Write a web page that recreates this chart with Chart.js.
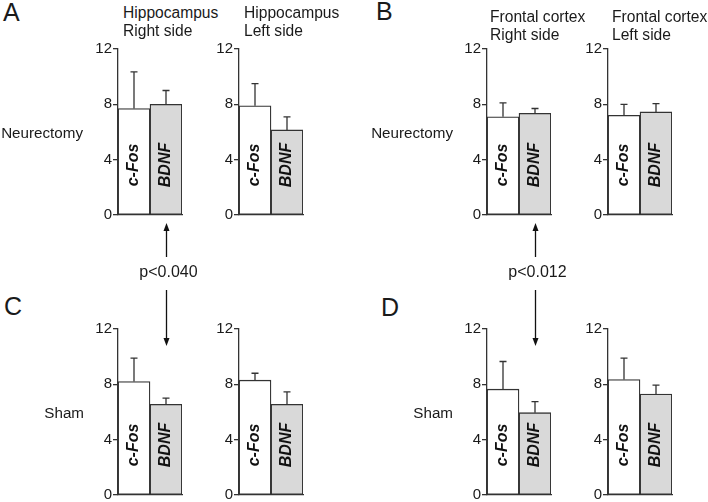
<!DOCTYPE html>
<html>
<head>
<meta charset="utf-8">
<title>c-Fos and BDNF</title>
<script src="https://cdn.jsdelivr.net/npm/chart.js@4.4.1/dist/chart.umd.min.js"></script>
<style>
  body { margin: 0; background: #fff; }
  #fig { position: relative; width: 708px; height: 502px; overflow: hidden;
         font-family: Arial, "Liberation Sans", sans-serif; color: #1a1a1a; }
  #fig canvas { position: absolute; }
  .txt { position: absolute; white-space: nowrap; line-height: 1; }
  #arrows { position: absolute; left: 0; top: 0; }
</style>
</head>
<body>
<div id="fig"></div>
<script>
// bar categories and y axis
const markers = ["c-Fos", "BDNF"];
const yTicks = [0, 4, 8, 12];

// Neurectomy (panels A and B): means and upper error (SEM)
const hipRightNeurectomy = [7.7, 8.0];
const hipRightNeurectomyErr = [2.65, 1.0];
const hipLeftNeurectomy = [7.9, 6.15];
const hipLeftNeurectomyErr = [1.6, 0.95];
const frontRightNeurectomy = [7.1, 7.35];
const frontRightNeurectomyErr = [1.0, 0.35];
const frontLeftNeurectomy = [7.2, 7.45];
const frontLeftNeurectomyErr = [0.8, 0.6];

// Sham (panels C and D)
const hipRightSham = [8.2, 6.55];
const hipRightShamErr = [1.7, 0.45];
const hipLeftSham = [8.3, 6.55];
const hipLeftShamErr = [0.5, 0.9];
const frontRightSham = [7.65, 5.95];
const frontRightShamErr = [2.0, 0.8];
const frontLeftSham = [8.35, 7.3];
const frontLeftShamErr = [1.55, 0.65];

const pValues = ["p<0.040", "p<0.012"];

(() => {
  const LINE = "#333";
  const FILLS = ["#ffffff", "#d9d9d9"];
  const FONT = 'Arial, "Liberation Sans", sans-serif';
  const AXIS_W = 40, PLOT_W = 64, PLOT_H = 166, PAD_TOP = 12, PAD_RIGHT = 6, PAD_BOTTOM = 12;
  const fig = document.getElementById("fig");

  function addText(text, x, baseline, size, align) {
    const el = document.createElement("div");
    el.className = "txt";
    el.textContent = text;
    el.style.fontSize = size + "px";
    el.style.top = (baseline - 0.8465 * size).toFixed(1) + "px";
    el.style.left = x + "px";
    if (align === "right") el.style.transform = "translateX(-100%)";
    if (align === "center") el.style.transform = "translateX(-50%)";
    fig.appendChild(el);
  }

  const errorBars = {
    id: "errorBars",
    afterDatasetsDraw(chart) {
      const { ctx } = chart;
      const y = chart.scales.y;
      const ds = chart.data.datasets[0];
      chart.getDatasetMeta(0).data.forEach((bar, i) => {
        const top = y.getPixelForValue(ds.data[i] + ds.errors[i]);
        ctx.save();
        ctx.strokeStyle = LINE;
        ctx.lineWidth = 1.3;
        ctx.beginPath();
        ctx.moveTo(bar.x, bar.y);
        ctx.lineTo(bar.x, top);
        ctx.moveTo(bar.x - 3.5, top);
        ctx.lineTo(bar.x + 3.5, top);
        ctx.stroke();
        ctx.restore();
      });
    },
  };

  const barLabels = {
    id: "barLabels",
    afterDatasetsDraw(chart) {
      const { ctx, chartArea } = chart;
      chart.getDatasetMeta(0).data.forEach((bar, i) => {
        ctx.save();
        ctx.translate(bar.x, chartArea.bottom - 50);
        ctx.rotate(-Math.PI / 2);
        ctx.font = "italic bold 16px " + FONT;
        ctx.fillStyle = "#111";
        ctx.textAlign = "center";
        ctx.textBaseline = "middle";
        ctx.fillText(chart.data.labels[i], 0, 0);
        ctx.restore();
      });
    },
  };

  function makePanel(axisX, y12, values, errors) {
    const canvas = document.createElement("canvas");
    canvas.width = AXIS_W + PLOT_W + PAD_RIGHT;
    canvas.height = PAD_TOP + PLOT_H + PAD_BOTTOM;
    canvas.style.left = axisX - AXIS_W + "px";
    canvas.style.top = y12 - PAD_TOP + "px";
    fig.appendChild(canvas);

    new Chart(canvas, {
      type: "bar",
      data: {
        labels: markers,
        datasets: [{
          data: values,
          errors: errors,
          backgroundColor: FILLS,
          borderColor: LINE,
          borderWidth: 1.3,
          borderSkipped: false,
          barPercentage: 1,
          categoryPercentage: 1,
        }],
      },
      options: {
        responsive: false,
        animation: false,
        devicePixelRatio: 1,
        layout: { padding: { top: PAD_TOP, right: PAD_RIGHT, bottom: PAD_BOTTOM, left: 0 } },
        plugins: { legend: { display: false }, tooltip: { enabled: false } },
        scales: {
          x: {
            grid: { display: false, drawTicks: false },
            ticks: { display: false },
            border: { display: true, color: LINE, width: 1.3 },
            afterFit: (s) => { s.height = 0; },
          },
          y: {
            min: 0,
            max: 12,
            afterBuildTicks: (s) => { s.ticks = yTicks.map((v) => ({ value: v })); },
            ticks: { color: "#1a1a1a", padding: 1, font: { family: FONT, size: 15 } },
            grid: { drawOnChartArea: false, drawTicks: true, tickLength: 5, color: LINE, lineWidth: 1.3 },
            border: { display: true, color: LINE, width: 1.3 },
            afterFit: (s) => { s.width = AXIS_W; },
          },
        },
      },
      plugins: [errorBars, barLabels],
    });
  }

  // panels: A (top left), B (top right), C (bottom left), D (bottom right)
  const topY12 = 49, botY12 = 329;
  const hipRightX = 118, hipLeftX = 239, frontRightX = 487, frontLeftX = 608;

  makePanel(hipRightX, topY12, hipRightNeurectomy, hipRightNeurectomyErr);
  makePanel(hipLeftX, topY12, hipLeftNeurectomy, hipLeftNeurectomyErr);
  makePanel(frontRightX, topY12, frontRightNeurectomy, frontRightNeurectomyErr);
  makePanel(frontLeftX, topY12, frontLeftNeurectomy, frontLeftNeurectomyErr);
  makePanel(hipRightX, botY12, hipRightSham, hipRightShamErr);
  makePanel(hipLeftX, botY12, hipLeftSham, hipLeftShamErr);
  makePanel(frontRightX, botY12, frontRightSham, frontRightShamErr);
  makePanel(frontLeftX, botY12, frontLeftSham, frontLeftShamErr);

  // panel letters
  addText("A", 3, 21.5, 25);
  addText("B", 376, 20.5, 25);
  addText("C", 4, 315, 25);
  addText("D", 381, 316, 25);

  // titles
  addText("Hippocampus", 123, 18.3, 15.6);
  addText("Right side", 123, 36.3, 15.6);
  addText("Hippocampus", 244, 18.3, 15.6);
  addText("Left side", 244, 36.3, 15.6);
  addText("Frontal cortex", 490, 22.5, 15.6);
  addText("Right side", 490, 40, 15.6);
  addText("Frontal cortex", 612, 22.5, 15.6);
  addText("Left side", 612, 40, 15.6);

  // row labels
  addText("Neurectomy", 83, 137.5, 15.2, "right");
  addText("Neurectomy", 453, 137.5, 15.2, "right");
  addText("Sham", 84, 418, 15.2, "right");
  addText("Sham", 453, 418, 15.2, "right");

  // comparison arrows between BDNF bars
  const svgNS = "http://www.w3.org/2000/svg";
  const svg = document.createElementNS(svgNS, "svg");
  svg.setAttribute("id", "arrows");
  svg.setAttribute("width", 708);
  svg.setAttribute("height", 502);
  fig.appendChild(svg);

  function arrow(x, yFrom, yTip) {
    const dir = yTip > yFrom ? 1 : -1;
    const line = document.createElementNS(svgNS, "line");
    line.setAttribute("x1", x);
    line.setAttribute("x2", x);
    line.setAttribute("y1", yFrom);
    line.setAttribute("y2", yTip - dir * 6);
    line.setAttribute("stroke", "#111");
    line.setAttribute("stroke-width", 1.3);
    svg.appendChild(line);
    const head = document.createElementNS(svgNS, "polygon");
    head.setAttribute("points", `${x - 3},${yTip - dir * 8} ${x + 3},${yTip - dir * 8} ${x},${yTip}`);
    head.setAttribute("fill", "#111");
    svg.appendChild(head);
  }

  [hipRightX, frontRightX].forEach((axisX, i) => {
    const x = axisX + PLOT_W * 0.75 + 0.5;
    arrow(x, 257, 223);
    arrow(x, 290, 346);
    addText(pValues[i], x + 2, 277.5, 16, "center");
  });
})();
</script>
</body>
</html>
